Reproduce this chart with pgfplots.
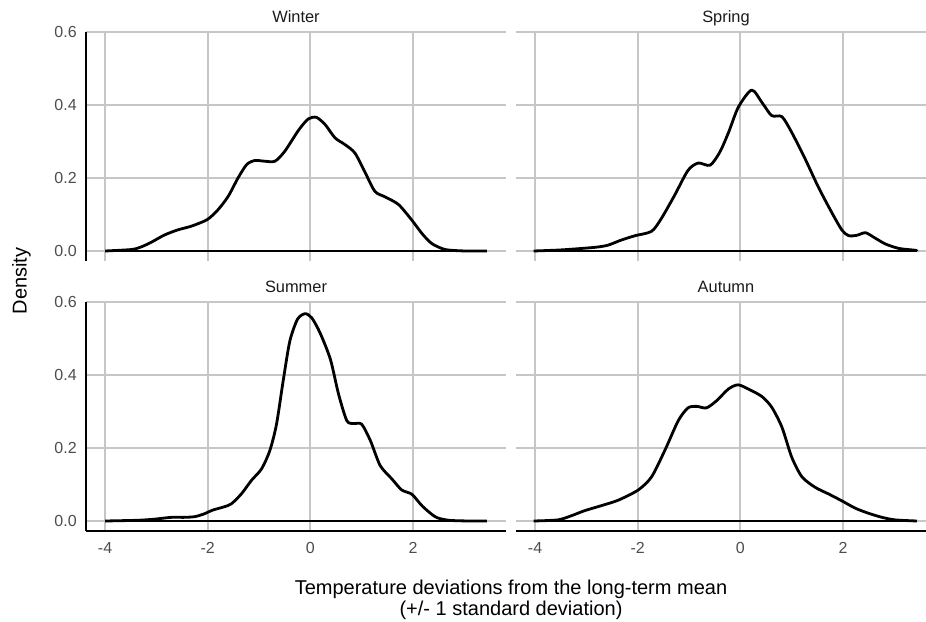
\documentclass[border=0pt]{standalone}
\usepackage{pgfplots}
\pgfplotsset{compat=1.18}
\usepackage{fontspec}
\setmainfont{Liberation Sans}
\definecolor{gridgray}{RGB}{198,198,198}
\definecolor{tickgray}{RGB}{77,77,77}
\definecolor{stripgray}{RGB}{26,26,26}

\pgfplotsset{
 every axis title/.style={at={(0.5,1)}, anchor=base, yshift=7pt, font=\fontsize{12.3}{14}\selectfont, text=stripgray},
 panel/.style={
  scale only axis, width=315pt, height=171.75pt,
  xmin=-4.372, xmax=3.812, ymin=-0.0274, ymax=0.6,
  xtick={-4,-2,0,2}, ytick={0,0.2,0.4,0.6},
  xticklabels={-4,-2,0,2}, yticklabels={0.0,0.2,0.4,0.6},
  grid=major, major grid style={draw=gridgray, line width=1.4pt},
  major tick length=0pt,
  axis x line*=bottom, axis y line*=left,
  axis line style={-, black, line width=1.7pt},
  tick label style={font=\fontsize{12}{14}\selectfont, text=tickgray, inner sep=0pt},
  xticklabel style={anchor=north, yshift=-8.25pt},
  yticklabel style={anchor=east, xshift=-6.75pt},
  clip=false,
 },
 noxaxis/.style={x axis line style={draw=none}, xticklabels={}},
 noyaxis/.style={y axis line style={draw=none}, yticklabels={}},
 curve/.style={black, line width=2.1pt, smooth, tension=0.45, mark=none, line join=round},
 base/.style={black, line width=2.1pt, mark=none},
}

\begin{document}
\begin{tikzpicture}
\useasboundingbox (0,0) rectangle (694.5pt,466.5pt);

% Winter
\begin{axis}[panel, noxaxis, at={(64.5pt,270.75pt)}, anchor=south west, title={Winter}]
\addplot[curve] coordinates {(-4,0) (-3.49,0.004) (-3.30,0.011) (-3.10,0.024) (-2.84,0.044) (-2.58,0.058) (-2.32,0.068) (-2.01,0.086) (-1.80,0.113) (-1.60,0.150) (-1.41,0.200) (-1.24,0.237) (-1.08,0.248) (-0.89,0.246) (-0.69,0.246) (-0.50,0.273) (-0.23,0.331) (-0.04,0.362) (0.12,0.366) (0.29,0.346) (0.48,0.310) (0.68,0.291) (0.87,0.268) (1.07,0.214) (1.26,0.163) (1.46,0.148) (1.72,0.127) (1.98,0.084) (2.18,0.047) (2.37,0.020) (2.63,0.004) (3.02,0.0) (3.44,0)};
\addplot[base] coordinates {(-4,0) (3.44,0)};
\end{axis}

% Spring
\begin{axis}[panel, noxaxis, noyaxis, at={(387pt,270.75pt)}, anchor=south west, title={Spring}]
\addplot[curve] coordinates {(-4.03,0) (-3.49,0.003) (-2.84,0.010) (-2.58,0.016) (-2.32,0.030) (-2.05,0.042) (-1.73,0.054) (-1.54,0.089) (-1.28,0.153) (-1.02,0.221) (-0.82,0.241) (-0.59,0.235) (-0.40,0.271) (-0.23,0.325) (-0.04,0.394) (0.22,0.441) (0.42,0.407) (0.61,0.371) (0.81,0.368) (1.0,0.325) (1.26,0.253) (1.52,0.175) (1.79,0.103) (1.98,0.057) (2.11,0.042) (2.27,0.043) (2.44,0.050) (2.63,0.035) (2.83,0.019) (3.09,0.007) (3.41,0.002) (3.44,0)};
\addplot[base] coordinates {(-4.03,0) (3.44,0)};
\end{axis}

% Summer
\begin{axis}[panel, at={(64.5pt,68.25pt)}, anchor=south west, title={Summer}]
\addplot[curve] coordinates {(-4,0) (-3.36,0.002) (-3.04,0.005) (-2.71,0.010) (-2.45,0.010) (-2.25,0.012) (-2.08,0.019) (-1.90,0.030) (-1.70,0.038) (-1.54,0.047) (-1.34,0.075) (-1.15,0.111) (-0.95,0.143) (-0.79,0.193) (-0.66,0.265) (-0.53,0.384) (-0.40,0.493) (-0.25,0.553) (-0.10,0.568) (0.03,0.556) (0.19,0.515) (0.39,0.443) (0.55,0.347) (0.71,0.275) (0.84,0.267) (1.0,0.265) (1.17,0.220) (1.36,0.152) (1.59,0.115) (1.78,0.085) (1.98,0.073) (2.18,0.041) (2.44,0.011) (2.70,0.002) (3.10,0) (3.44,0)};
\addplot[base] coordinates {(-4,0) (3.44,0)};
\end{axis}

% Autumn
\begin{axis}[panel, noyaxis, at={(387pt,68.25pt)}, anchor=south west, title={Autumn}]
\addplot[curve] coordinates {(-4.03,0) (-3.56,0.003) (-3.30,0.014) (-3.04,0.028) (-2.71,0.042) (-2.38,0.057) (-1.99,0.085) (-1.73,0.121) (-1.47,0.194) (-1.21,0.275) (-1.02,0.310) (-0.85,0.314) (-0.66,0.310) (-0.46,0.330) (-0.23,0.362) (-0.04,0.373) (0.19,0.359) (0.42,0.341) (0.61,0.312) (0.81,0.257) (1.0,0.175) (1.20,0.121) (1.46,0.092) (1.72,0.074) (1.98,0.055) (2.24,0.035) (2.50,0.021) (2.76,0.010) (3.02,0.003) (3.44,0)};
\addplot[base] coordinates {(-4.03,0) (3.44,0)};
\end{axis}

\node[anchor=base, font=\fontsize{15}{15}\selectfont] at (383.25pt,20.25pt) {Temperature deviations from the long-term mean};
\node[anchor=base, font=\fontsize{15}{15}\selectfont] at (383.25pt,5.25pt) {(+/- 1 standard deviation)};
\node[anchor=base, rotate=90, font=\fontsize{15}{15}\selectfont] at (20pt,255.75pt) {Density};
\end{tikzpicture}
\end{document}
